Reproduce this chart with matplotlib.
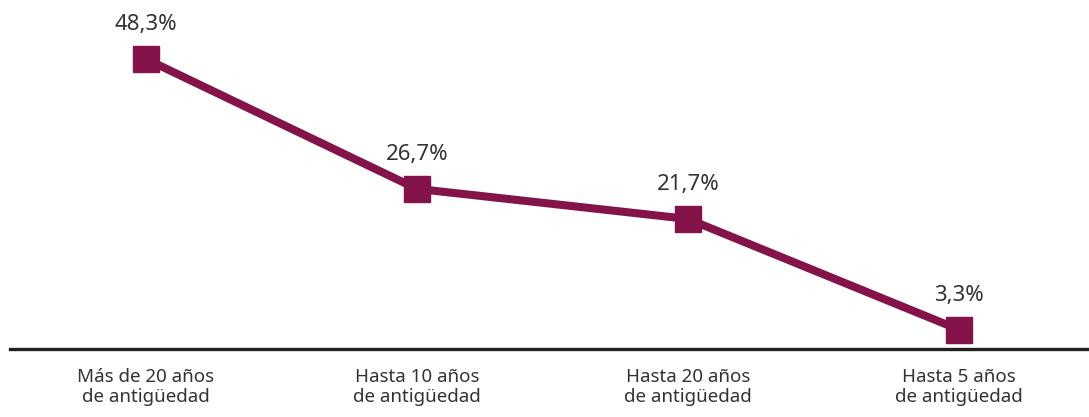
import matplotlib.pyplot as plt

categories = ['Más de 20 años\nde antigüedad', 'Hasta 10 años\nde antigüedad',
              'Hasta 20 años\nde antigüedad', 'Hasta 5 años\nde antigüedad']
values = [48.3, 26.7, 21.7, 3.3]
labels = ['48,3%', '26,7%', '21,7%', '3,3%']

color = '#84134A'
plt.rcParams['font.family'] = ['Noto Sans', 'DejaVu Sans']

fig = plt.figure(figsize=(10.89, 4.17), dpi=100)
ax = fig.add_axes([0.009, 0.162, 0.991, 0.838])

x = list(range(len(values)))
ax.plot(x, values, color=color, lw=5.8, marker='s', markersize=18.5,
        solid_joinstyle='miter', clip_on=False, zorder=3)

for xi, v, lab in zip(x, values, labels):
    ax.annotate(lab, (xi, v), xytext=(0, 17), textcoords='offset points',
                ha='center', va='bottom', fontsize=16, color='#333333')

ax.set_xlim(-0.502, 3.48)
ax.set_ylim(0, 58.1)
ax.set_xticks(x)
ax.set_xticklabels(categories, fontsize=13.5, color='#333333', linespacing=1.15)
ax.tick_params(axis='x', length=0, pad=13)
ax.set_yticks([])
for s in ['top', 'right', 'left']:
    ax.spines[s].set_visible(False)
ax.spines['bottom'].set_linewidth(2.4)
ax.spines['bottom'].set_color('#231F20')

fig.savefig('out.png', dpi=100)
